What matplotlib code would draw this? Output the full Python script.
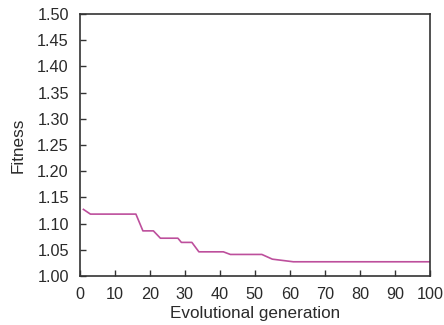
import matplotlib
matplotlib.use("Agg")
import matplotlib.pyplot as plt
import numpy as np

plt.rcParams['font.family'] = ['Liberation Sans', 'DejaVu Sans']

# breakpoints of the fitness curve
generation = [1, 3, 16, 18, 21, 23, 28, 29, 32, 34, 41, 43, 52, 55, 61, 100]
fitness = [1.127, 1.118, 1.118, 1.086, 1.086, 1.072, 1.072, 1.064, 1.064,
           1.046, 1.046, 1.041, 1.041, 1.032, 1.027, 1.027]

x_ticks = list(range(0, 101, 10))
y_ticks = [1.00, 1.05, 1.10, 1.15, 1.20, 1.25, 1.30, 1.35, 1.40, 1.45, 1.50]

fig = plt.figure(figsize=(4.44, 3.25), dpi=100)
ax = fig.add_axes([0.180, 0.151, 0.788, 0.806])

ax.plot(generation, fitness, color='#bd4f9c', lw=1.2)

ax.set_xlim(0, 100)
ax.set_ylim(1.0, 1.5)
ax.set_xticks(x_ticks)
ax.set_yticks(y_ticks)
ax.set_yticklabels(['%.2f' % v for v in y_ticks])
ax.tick_params(direction='in', length=4, width=1, color='#333333',
               labelsize=11.7, labelcolor='#2a2a2a', top=False, right=False, pad=8)
for s in ax.spines.values():
    s.set_color('#333333')
    s.set_linewidth(1.2)

ax.set_xlabel('Evolutional generation', fontsize=12.3, color='#2a2a2a', labelpad=3)
ax.set_ylabel('Fitness', fontsize=12.3, color='#2a2a2a', labelpad=8)

fig.savefig('out.png', dpi=100)
